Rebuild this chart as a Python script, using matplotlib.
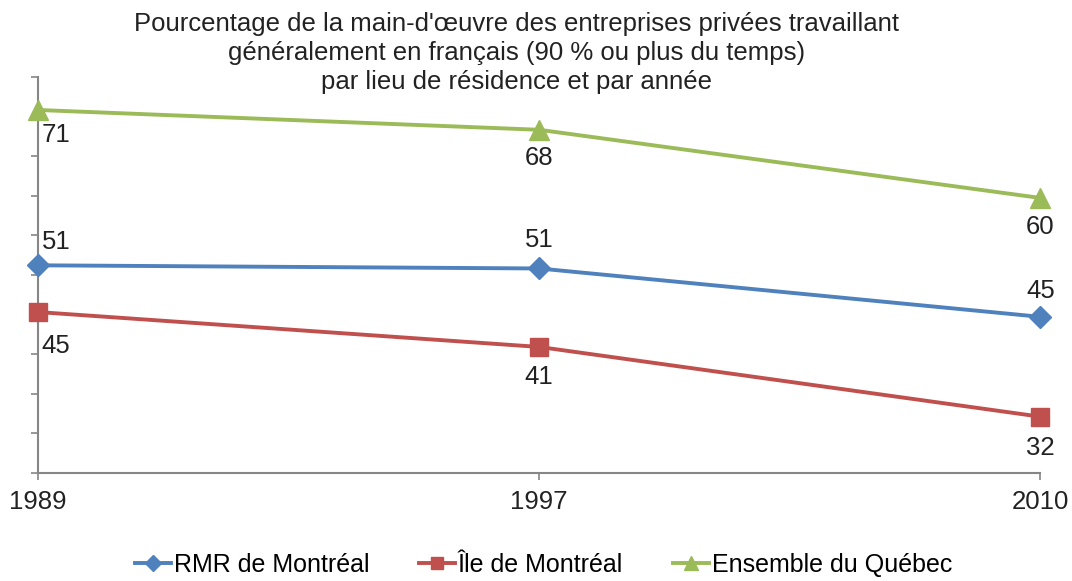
import numpy as np
import matplotlib.pyplot as plt

plt.rcParams['font.family'] = ['Liberation Sans', 'DejaVu Sans']

years = ['1989', '1997', '2010']
rmr = [51.2, 50.8, 44.7]
ile = [45.3, 40.9, 32.1]
quebec = [70.8, 68.3, 59.7]

fig = plt.figure(figsize=(10.72, 5.81), dpi=100)
ax = fig.add_axes([0.0354, 0.186, 0.935, 0.682])

x = np.arange(len(years))
ax.plot(x, rmr, color='#4F81BD', lw=2.8, marker='D', ms=11, clip_on=False,
        label='RMR de Montréal', zorder=3)
ax.plot(x, ile, color='#C0504D', lw=2.8, marker='s', ms=12.5, clip_on=False,
        label='Île de Montréal', zorder=3)
ax.plot(x, quebec, color='#9BBB59', lw=2.8, marker='^', ms=14, clip_on=False,
        label='Ensemble du Québec', zorder=3)

# label offsets in pixels (dx, dy) per series and point
def labels(vals, offs):
    for i, (v, (dx, dy)) in enumerate(zip(vals, offs)):
        ax.annotate(f'{round(v):d}', (x[i], v), xytext=(dx, dy),
                    textcoords='offset pixels', ha='center', va='center',
                    fontsize=18.5, color='#222222')

labels(quebec, [(18, -25), (0, -28), (0, -29)])
labels(rmr, [(18, 23), (0, 28), (0, 26)])
labels(ile, [(18, -34), (0, -30), (0, -31)])

ax.set_xlim(0, 2)
ax.set_ylim(25, 75)
ax.set_xticks(x)
ax.set_xticklabels(years, fontsize=18.5, color='#222222')
ax.set_yticks(np.arange(25, 76, 5))
ax.set_yticklabels([])
ax.tick_params(axis='both', direction='out', length=5, width=1.2, color='#868686')
ax.tick_params(axis='x', pad=7)
for s in ['top', 'right']:
    ax.spines[s].set_visible(False)
for s in ['left', 'bottom']:
    ax.spines[s].set_color('#868686')
    ax.spines[s].set_linewidth(1.5)

fig.text(0.482, 0.98, 'Pourcentage de la main-d\'œuvre des entreprises privées travaillant\n'
         'généralement en français (90 % ou plus du temps)\n'
         'par lieu de résidence et par année',
         ha='center', va='top', fontsize=18.5, linespacing=1.28, color='#222222')

fig.legend(loc='center', bbox_to_anchor=(0.507, 0.028), ncol=3, frameon=False,
           fontsize=18, handlelength=1.45, columnspacing=2.0, handletextpad=0.1,
           markerscale=0.7)

fig.savefig('out.png', dpi=100)
